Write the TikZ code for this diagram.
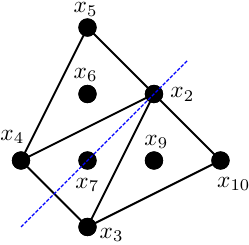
\documentclass[tikz,border=0pt]{standalone}
\begin{document}
\begin{tikzpicture}[x=1cm, y=1cm,
  dot/.style={circle,fill=black,inner sep=0pt,minimum size=0.275cm},
  edge/.style={line width=0.85pt},
  cut/.style={blue,line width=0.6pt,dash pattern=on 1.5pt off 0.7pt},
  lbl/.style={inner sep=0pt,anchor=base west,font=\normalsize}]
\useasboundingbox (-0.316,-0.256) rectangle (3.429,3.414);
\node[dot] (x5) at (1,3) {};
\node[dot] (x6) at (1,2) {};
\node[dot] (x2) at (2,2) {};
\node[dot] (x4) at (0,1) {};
\node[dot] (x7) at (1,1) {};
\node[dot] (x9) at (2,1) {};
\node[dot] (x10) at (3,1) {};
\node[dot] (x3) at (1,0) {};
\draw[edge] (x5.center) -- (x4.center) -- (x3.center) -- (x10.center) -- (x2.center) -- (x5.center);
\draw[edge] (x4.center) -- (x2.center) -- (x3.center);
\foreach \n in {x5,x6,x2,x4,x7,x9,x10,x3} \node[dot] at (\n) {};
\coordinate (c0) at (0,0);
\coordinate (c1) at (2.5,2.5);
\draw[cut] (c0) -- (c1);
\node[lbl] (l5) at (0.786,3.225) {$x_5$};
\node[lbl] (l6) at (0.786,2.236) {$x_6$};
\node[lbl] (l2) at (2.241,1.944) {$x_2$};
\node[lbl] (l4) at (-0.316,1.308) {$x_4$};
\node[lbl] (l7) at (0.812,0.582) {$x_7$};
\node[lbl] (l9) at (1.850,1.233) {$x_9$};
\node[lbl] (l10) at (2.943,0.600) {$x_{10}$};
\node[lbl] (l3) at (1.177,-0.170) {$x_3$};
\end{tikzpicture}
\end{document}
